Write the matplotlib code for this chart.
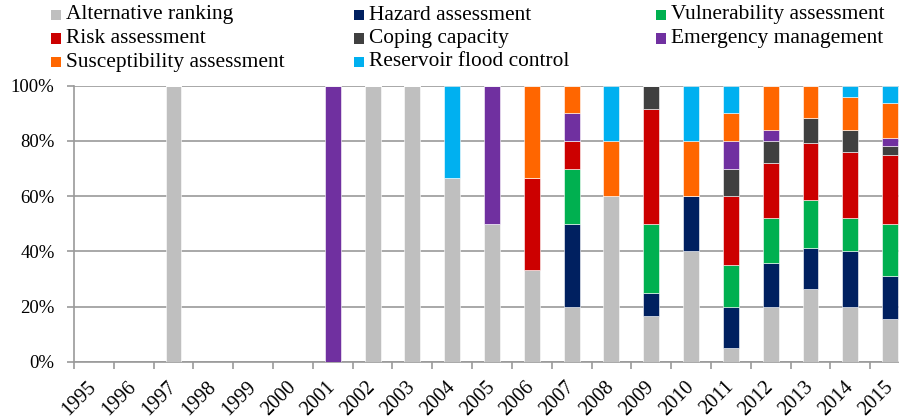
import matplotlib
matplotlib.use("Agg")
import matplotlib.pyplot as plt
import numpy as np
from matplotlib.patches import Rectangle

plt.rcParams['font.family'] = ['Liberation Serif', 'DejaVu Serif']

years = [str(y) for y in range(1995, 2016)]

categories = ["Alternative ranking", "Hazard assessment", "Vulnerability assessment",
              "Risk assessment", "Coping capacity", "Emergency management",
              "Susceptibility assessment", "Reservoir flood control"]
colors = ["#BFBFBF", "#002060", "#00B050", "#CC0000", "#404040", "#7030A0",
          "#FF6600", "#00B0F0"]

#                1995 96 97  98 99 2000 01  02   03   04    05  06    07  08  09    10  11  12  13    14  15
alternative  = [0, 0, 100, 0, 0, 0, 0,   100, 100, 66.7, 50, 33.3, 20, 60, 16.7, 40, 5,  20, 26.5, 20, 15.6]
hazard       = [0, 0, 0,   0, 0, 0, 0,   0,   0,   0,    0,  0,    30, 0,  8.3,  20, 15, 16, 14.7, 20, 15.6]
vulnerability= [0, 0, 0,   0, 0, 0, 0,   0,   0,   0,    0,  0,    20, 0,  25,   0,  15, 16, 17.6, 12, 18.8]
risk         = [0, 0, 0,   0, 0, 0, 0,   0,   0,   0,    0,  33.3, 10, 0,  41.7, 0,  25, 20, 20.6, 24, 25]
coping       = [0, 0, 0,   0, 0, 0, 0,   0,   0,   0,    0,  0,    0,  0,  8.3,  0,  10, 8,  8.8,  8,  3.1]
emergency    = [0, 0, 0,   0, 0, 0, 100, 0,   0,   0,    50, 0,    10, 0,  0,    0,  10, 4,  0,    0,  3.1]
susceptibility=[0, 0, 0,   0, 0, 0, 0,   0,   0,   0,    0,  33.4, 10, 20, 0,    20, 10, 16, 11.8, 12, 12.5]
reservoir    = [0, 0, 0,   0, 0, 0, 0,   0,   0,   33.3, 0,  0,    0,  20, 0,    20, 10, 0,  0,    4,  6.3]

series = [alternative, hazard, vulnerability, risk, coping, emergency, susceptibility, reservoir]

W, H = 899, 418
fig = plt.figure(figsize=(W / 100, H / 100), dpi=100)
ax = fig.add_axes([74 / W, 56 / H, 836 / W, 276.3 / H])

x = np.arange(len(years))
bottom = np.zeros(len(years))
for name, vals, c in zip(categories, series, colors):
    v = np.array(vals, dtype=float)
    ax.bar(x, v, width=0.4, bottom=bottom, color=c, edgecolor='white', linewidth=0.4, zorder=3)
    bottom += v

ax.set_xlim(-0.5, len(years) - 0.5)
ax.set_ylim(0, 100)
ax.set_yticks([0, 20, 40, 60, 80, 100])
ax.set_yticklabels([f"{t}%" for t in [0, 20, 40, 60, 80, 100]])
ax.yaxis.grid(True, color='#9A9A9A', linewidth=1.2, zorder=0)
ax.set_axisbelow(True)

ax.set_xticks(x)
ax.set_xticklabels(years, rotation=45, ha='right', va='center', rotation_mode='anchor')
ax.set_xticks(np.arange(-0.5, len(years), 1), minor=True)
ax.tick_params(axis='x', which='major', length=0, pad=16, labelsize=14.5)
ax.tick_params(axis='x', which='minor', length=5, color='#9A9A9A', width=1.2)
ax.tick_params(axis='y', length=5, color='#9A9A9A', width=1.2, pad=9, labelsize=13.5)

for s in ['top', 'right']:
    ax.spines[s].set_visible(False)
for s in ['left', 'bottom']:
    ax.spines[s].set_color('#9A9A9A')
    ax.spines[s].set_linewidth(1.2)

# legend laid out in 3 columns, row-major
col_x = [51, 354, 656]
row_y = [15, 38.5, 62]
sq = 10
for i, (name, c) in enumerate(zip(categories, colors)):
    r, cidx = divmod(i, 3)
    x0 = col_x[cidx]
    yc = row_y[r]
    fig.patches.append(Rectangle((x0 / W, (H - yc - sq / 2) / H), sq / W, sq / H,
                                 transform=fig.transFigure, facecolor=c, edgecolor='none'))
    fig.text((x0 + 15) / W, (H - yc) / H, name, fontsize=15.4, va='center', ha='left')

fig.savefig("out.png", dpi=100)
